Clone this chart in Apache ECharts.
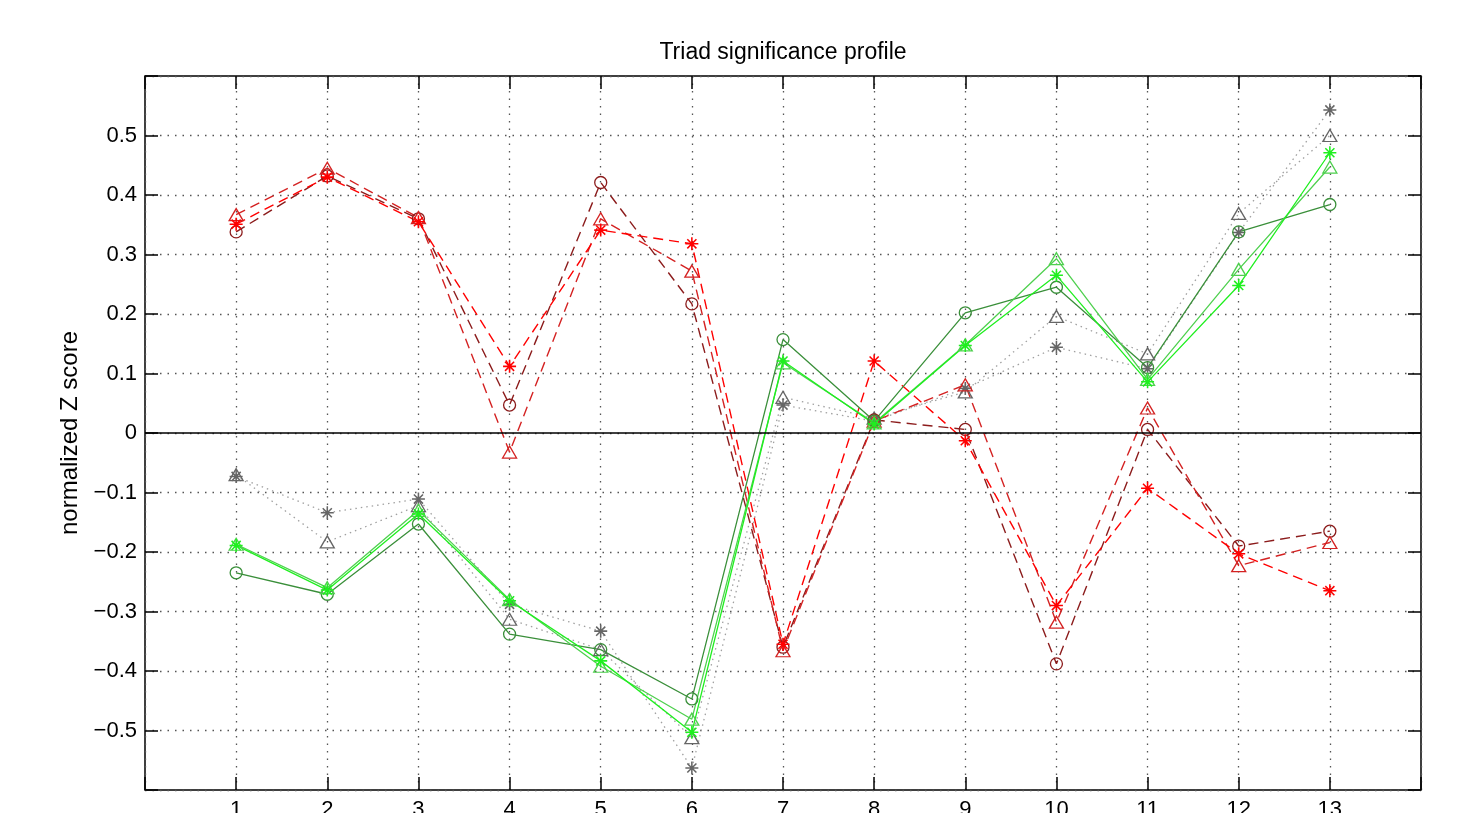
<!DOCTYPE html>
<html>
<head>
<meta charset="utf-8">
<script src="https://cdn.jsdelivr.net/npm/echarts@6/dist/echarts.min.js"></script>
<style>html,body{margin:0;padding:0;background:#fff}#c{width:1460px;height:813px}</style>
</head>
<body>
<div id="c"></div>
<script>
const categories = [1, 2, 3, 4, 5, 6, 7, 8, 9, 10, 11, 12, 13];
const yTicks = [-0.5, -0.4, -0.3, -0.2, -0.1, 0, 0.1, 0.2, 0.3, 0.4, 0.5];

const redStar   = [0.351, 0.430, 0.355, 0.112, 0.341, 0.318, -0.355, 0.121, -0.013, -0.290, -0.093, -0.203, -0.265];
const redTri    = [0.367, 0.445, 0.362, -0.032, 0.360, 0.272, -0.366, 0.020, 0.081, -0.318, 0.042, -0.223, -0.184];
const redCirc   = [0.338, 0.432, 0.360, 0.047, 0.421, 0.217, -0.360, 0.022, 0.006, -0.388, 0.006, -0.190, -0.165];
const greenStar = [-0.189, -0.264, -0.136, -0.282, -0.383, -0.503, 0.121, 0.015, 0.147, 0.265, 0.086, 0.248, 0.471];
const greenTri  = [-0.187, -0.260, -0.130, -0.280, -0.392, -0.481, 0.118, 0.017, 0.148, 0.293, 0.090, 0.275, 0.447];
const greenCirc = [-0.235, -0.271, -0.153, -0.338, -0.364, -0.447, 0.157, 0.020, 0.202, 0.245, 0.110, 0.338, 0.384];
const grayStar  = [-0.073, -0.134, -0.111, -0.288, -0.333, -0.563, 0.047, 0.020, 0.075, 0.144, 0.108, 0.337, 0.543];
const grayTri   = [-0.070, -0.183, -0.122, -0.313, -0.364, -0.512, 0.060, 0.025, 0.069, 0.196, 0.133, 0.369, 0.500];

const ASTERISK = 'path://M44,0 L56,0 L56,100 L44,100 Z M0,44 L100,44 L100,56 L0,56 Z ' +
  'M19.2,10.8 L89.2,80.8 L80.8,89.2 L10.8,19.2 Z M80.8,10.8 L89.2,19.2 L19.2,89.2 L10.8,80.8 Z';

const pairs = vals => categories.map((c, i) => [c, vals[i]]);

function mk(name, vals, lineColor, markColor, marker, dash, width) {
  const s = {
    name: name, type: 'line', data: pairs(vals), animation: false,
    lineStyle: { color: lineColor, width: width, type: dash },
    emphasis: { disabled: true }, silent: true
  };
  if (marker === 'star') {
    s.symbol = ASTERISK; s.symbolSize = 13;
    s.itemStyle = { color: markColor, borderWidth: 0 };
  } else if (marker === 'tri') {
    s.symbol = 'triangle'; s.symbolSize = [14, 12];
    s.itemStyle = { color: 'rgba(0,0,0,0)', borderColor: markColor, borderWidth: 1.3 };
  } else {
    s.symbol = 'circle'; s.symbolSize = 12;
    s.itemStyle = { color: 'rgba(0,0,0,0)', borderColor: markColor, borderWidth: 1.3 };
  }
  return s;
}

const dashed = [10, 6];
const dotted = [1.5, 4];

const series = [
  mk('gray *', grayStar, '#a0a0a0', '#666666', 'star', dotted, 1.3),
  mk('gray ^', grayTri, '#a0a0a0', '#666666', 'tri', dotted, 1.3),
  mk('red o', redCirc, '#8c1c1c', '#8c1c1c', 'circ', dashed, 1.4),
  mk('red ^', redTri, '#d42222', '#d42222', 'tri', dashed, 1.4),
  mk('red *', redStar, '#ff0000', '#ff0000', 'star', dashed, 1.4),
  mk('green o', greenCirc, '#3a8f3a', '#3a8f3a', 'circ', 'solid', 1.3),
  mk('green ^', greenTri, '#4fd04f', '#4fd04f', 'tri', 'solid', 1.3),
  mk('green *', greenStar, '#1fef1f', '#1fef1f', 'star', 'solid', 1.3)
];
series[0].markLine = {
  silent: true, symbol: 'none', label: { show: false }, animation: false,
  lineStyle: { color: '#000', width: 1.5, type: 'solid' },
  data: [{ yAxis: 0 }]
};

const FONT = '"Liberation Sans", Arial, sans-serif';
const gridLine = { show: true, lineStyle: { color: '#555', width: 1.3, type: [1.5, 6] } };
const tick = { show: true, inside: true, length: 13, lineStyle: { color: '#000', width: 1.5 } };
const noLine = { show: false, onZero: false };

const chart = echarts.init(document.getElementById('c'), null, { renderer: 'canvas' });
chart.setOption({
  backgroundColor: '#fff',
  animation: false,
  title: {
    text: 'Triad significance profile', left: 778, top: 36, textAlign: 'center',
    textStyle: { fontFamily: FONT, fontSize: 23, fontWeight: 'normal', color: '#000' }
  },
  grid: { left: 145, right: 39, top: 76, bottom: 23, outerBoundsMode: 'none', containLabel: false,
    show: true, borderColor: '#000', borderWidth: 1.5, backgroundColor: 'transparent' },
  xAxis: [
    { type: 'value', min: 0, max: 14, interval: 1, position: 'bottom',
      axisLine: noLine, axisTick: tick, splitLine: gridLine,
      axisLabel: { fontFamily: FONT, fontSize: 22, color: '#000', margin: 9,
        formatter: v => (categories.indexOf(v) >= 0 ? String(v) : '') } },
    { type: 'value', min: 0, max: 14, interval: 1, position: 'top',
      axisLine: noLine, axisTick: tick, splitLine: { show: false }, axisLabel: { show: false } }
  ],
  yAxis: [
    { type: 'value', min: -0.6, max: 0.6, interval: 0.1, position: 'left',
      name: 'normalized Z score', nameLocation: 'middle', nameRotate: 90, nameGap: 62,
      nameTextStyle: { fontFamily: FONT, fontSize: 24, color: '#000' },
      axisLine: noLine, axisTick: tick, splitLine: gridLine,
      axisLabel: { fontFamily: FONT, fontSize: 22, color: '#000', margin: 8,
        formatter: v => {
          const r = Math.round(v * 10) / 10;
          if (!yTicks.some(t => Math.abs(t - r) < 1e-9)) return '';
          if (r === 0) return '0';
          return (r < 0 ? '\u2212' : '') + Math.abs(r).toFixed(1);
        } } },
    { type: 'value', min: -0.6, max: 0.6, interval: 0.1, position: 'right',
      axisLine: noLine, axisTick: tick, splitLine: { show: false }, axisLabel: { show: false } }
  ],
  series: series
});
</script>
</body>
</html>
